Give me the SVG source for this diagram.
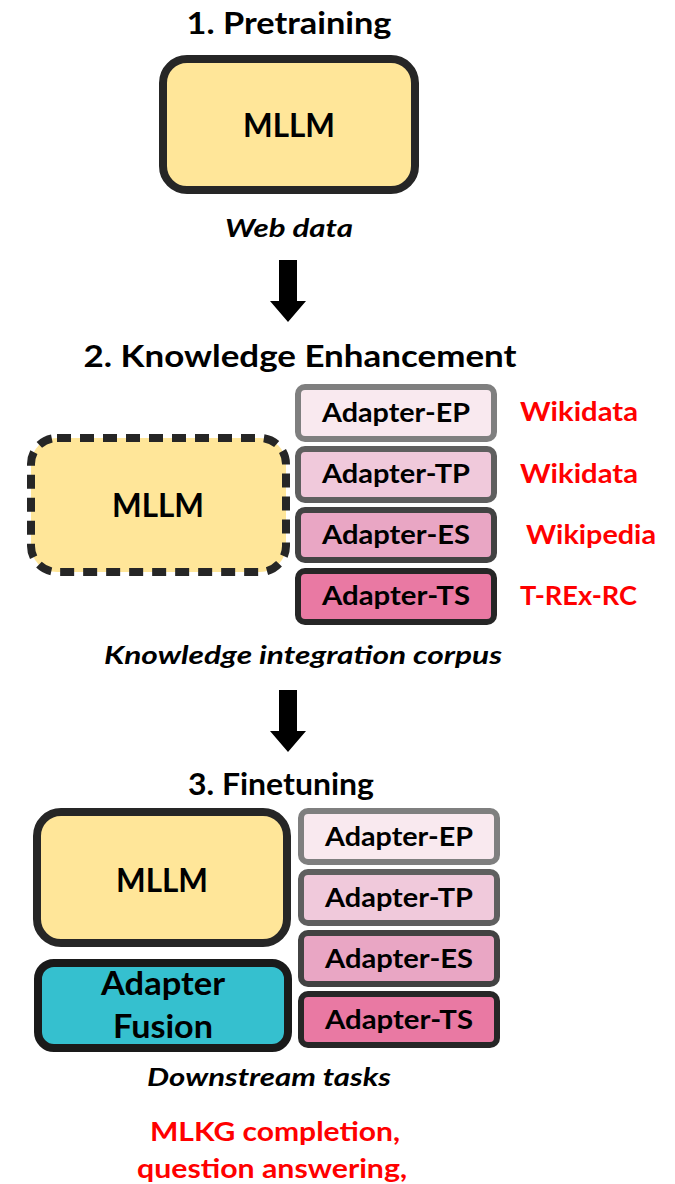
<svg xmlns="http://www.w3.org/2000/svg" width="675" height="1184" viewBox="0 0 675 1184">
  <style>
    text { font-family: Lato, "Liberation Sans", sans-serif; font-weight: bold; fill: #000; }
    .head { font-size: 30px; text-anchor: middle; }
    .mllm { font-size: 32px; text-anchor: middle; }
    .cap { font-size: 25px; font-style: italic; text-anchor: middle; }
    .ad { font-size: 26px; text-anchor: middle; }
    .src { font-size: 26px; fill: #ff0000; }
    .task { font-size: 26px; fill: #ff0000; text-anchor: middle; }
    .llm { fill: #ffe699; stroke: #262626; stroke-width: 8; }
    .ep { fill: #f9e9ef; stroke: #7f7f7f; stroke-width: 6; }
    .tp { fill: #f0c9db; stroke: #5f5f5f; stroke-width: 6; }
    .es { fill: #e9a6c4; stroke: #424242; stroke-width: 6; }
    .ts { fill: #e979a3; stroke: #262626; stroke-width: 6; }
    .fusion { fill: #35c0cf; stroke: #1a1a1a; stroke-width: 8; }
  </style>

  <!-- Stage 1 -->
  <g id="stage1">
    <text class="head" x="289" y="34" textLength="205" lengthAdjust="spacingAndGlyphs">1. Pretraining</text>
    <g id="mllm1">
      <rect class="llm" x="163" y="59" width="252" height="131" rx="24"/>
      <text class="mllm" x="289" y="137" textLength="92" lengthAdjust="spacingAndGlyphs">MLLM</text>
    </g>
    <text class="cap" x="289" y="237" textLength="128" lengthAdjust="spacingAndGlyphs">Web data</text>
  </g>

  <!-- Stage 2 -->
  <g id="stage2">
    <text class="head" x="300" y="367" textLength="433" lengthAdjust="spacingAndGlyphs">2. Knowledge Enhancement</text>
    <g id="mllm2">
      <rect class="llm" x="31" y="438" width="255" height="134" rx="26" stroke-dasharray="14 9"/>
      <text class="mllm" x="158" y="517" textLength="92" lengthAdjust="spacingAndGlyphs">MLLM</text>
    </g>
    <g id="ke-ep">
      <rect class="ep" x="298" y="387" width="196" height="52" rx="7"/>
      <text class="ad" x="396" y="422" textLength="148" lengthAdjust="spacingAndGlyphs">Adapter-EP</text>
    </g>
    <g id="ke-tp">
      <rect class="tp" x="298" y="449" width="196" height="51" rx="7"/>
      <text class="ad" x="396" y="483" textLength="148" lengthAdjust="spacingAndGlyphs">Adapter-TP</text>
    </g>
    <g id="ke-es">
      <rect class="es" x="298" y="510" width="196" height="50" rx="7"/>
      <text class="ad" x="396" y="544" textLength="148" lengthAdjust="spacingAndGlyphs">Adapter-ES</text>
    </g>
    <g id="ke-ts">
      <rect class="ts" x="298" y="571" width="196" height="51" rx="7"/>
      <text class="ad" x="396" y="605" textLength="148" lengthAdjust="spacingAndGlyphs">Adapter-TS</text>
    </g>
    <text class="src" x="520" y="421" textLength="118" lengthAdjust="spacingAndGlyphs">Wikidata</text>
    <text class="src" x="520" y="483" textLength="118" lengthAdjust="spacingAndGlyphs">Wikidata</text>
    <text class="src" x="526" y="544" textLength="130" lengthAdjust="spacingAndGlyphs">Wikipedia</text>
    <text class="src" x="520" y="605" textLength="117" lengthAdjust="spacingAndGlyphs">T-REx-RC</text>
    <text class="cap" x="303" y="664" textLength="398" lengthAdjust="spacingAndGlyphs">Knowledge integration corpus</text>
  </g>

  <!-- Stage 3 -->
  <g id="stage3">
    <text class="head" x="281" y="795" textLength="186" lengthAdjust="spacingAndGlyphs">3. Finetuning</text>
    <g id="mllm3">
      <rect class="llm" x="37" y="812" width="250" height="131" rx="24"/>
      <text class="mllm" x="162" y="892" textLength="92" lengthAdjust="spacingAndGlyphs">MLLM</text>
    </g>
    <g id="fusion">
      <rect class="fusion" x="38" y="963" width="250" height="85" rx="16"/>
      <text class="mllm" x="163" y="995" textLength="124" lengthAdjust="spacingAndGlyphs">Adapter</text>
      <text class="mllm" x="163" y="1038" textLength="100" lengthAdjust="spacingAndGlyphs">Fusion</text>
    </g>
    <g id="ft-ep">
      <rect class="ep" x="301" y="811" width="196" height="51" rx="7"/>
      <text class="ad" x="399" y="846" textLength="148" lengthAdjust="spacingAndGlyphs">Adapter-EP</text>
    </g>
    <g id="ft-tp">
      <rect class="tp" x="301" y="872" width="196" height="51" rx="7"/>
      <text class="ad" x="399" y="907" textLength="148" lengthAdjust="spacingAndGlyphs">Adapter-TP</text>
    </g>
    <g id="ft-es">
      <rect class="es" x="301" y="933" width="196" height="51" rx="7"/>
      <text class="ad" x="399" y="968" textLength="148" lengthAdjust="spacingAndGlyphs">Adapter-ES</text>
    </g>
    <g id="ft-ts">
      <rect class="ts" x="301" y="994" width="196" height="51" rx="7"/>
      <text class="ad" x="399" y="1029" textLength="148" lengthAdjust="spacingAndGlyphs">Adapter-TS</text>
    </g>
    <text class="cap" x="269" y="1086" textLength="244" lengthAdjust="spacingAndGlyphs">Downstream tasks</text>
    <text class="task" x="275" y="1141" textLength="250" lengthAdjust="spacingAndGlyphs">MLKG completion,</text>
    <text class="task" x="272" y="1178" textLength="270" lengthAdjust="spacingAndGlyphs">question answering,</text>
  </g>

  <!-- Block arrows between stages -->
  <g id="connectors" fill="#000">
    <polygon points="279,260 297,260 297,301 306,301 288,322 270,301 279,301"/>
    <polygon points="279,690 297,690 297,731 306,731 288,752 270,731 279,731"/>
  </g>
</svg>
